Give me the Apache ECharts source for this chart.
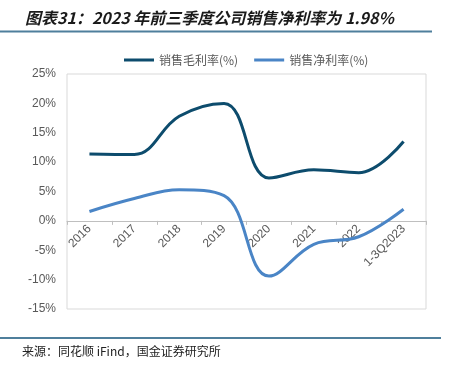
<!DOCTYPE html>
<html><head><meta charset="utf-8">
<script src="https://cdn.jsdelivr.net/npm/echarts@6/dist/echarts.min.js"></script>
<style>html,body{margin:0;padding:0;background:#fff}#c{width:452px;height:372px}</style>
</head><body><div id="c"></div>
<script>
const categories = ['2016','2017','2018','2019','2020','2021','2022','1-3Q2023'];
const grossMargin = [11.4, 11.3, 17.8, 20.0, 7.3, 8.7, 8.2, 13.5];
const netMargin = [1.6, 3.8, 5.3, 4.3, -9.4, -4.0, -2.7, 1.98];
const yTicks = {min: -15, max: 25, interval: 5};
const titleText = '图表31：2023 年前三季度公司销售净利率为 1.98%';
const sourceText = '来源：同花顺 iFind，国金证券研究所';
const seriesNames = ['销售毛利率(%)', '销售净利率(%)'];

const gridTop = 74, gridBottom = 63, H = 372;
const plotH = H - gridTop - gridBottom;
const zeroOffset = -plotH * (0 - yTicks.min) / (yTicks.max - yTicks.min);

const chart = echarts.init(document.getElementById('c'));
chart.setOption({
  animation: false,
  title: {
    text: titleText, left: 20, top: 5,
    textStyle: {fontFamily: 'Noto Sans CJK SC', fontSize: 16, fontStyle: 'italic', fontWeight: 'bold', color: '#1a1a1a'}
  },
  graphic: [
    {type: 'line', shape: {x1: 0, y1: 31.5, x2: 432, y2: 31.5}, style: {stroke: '#4f7f9c', lineWidth: 2}},
    {type: 'line', shape: {x1: 0, y1: 338, x2: 441, y2: 338}, style: {stroke: '#4f7f9c', lineWidth: 2}},
    {type: 'text', left: 22, top: 345, style: {text: sourceText, font: '12px "Noto Sans CJK SC"', fill: '#222'}}
  ],
  legend: {
    top: 49, left: 119, itemWidth: 30, itemHeight: 3, itemGap: 16,
    icon: 'rect',
    textStyle: {fontFamily: 'Noto Sans CJK SC', fontSize: 12, color: '#595959'},
    data: seriesNames
  },
  grid: {left: 67, right: 26, top: gridTop, bottom: gridBottom, show: true, borderColor: '#d9d9d9', borderWidth: 1},
  xAxis: {
    type: 'category', data: categories, boundaryGap: true, offset: zeroOffset,
    axisLine: {onZero: false, lineStyle: {color: '#bfbfbf'}},
    axisTick: {show: true, length: 4, lineStyle: {color: '#bfbfbf'}},
    axisLabel: {rotate: 45, color: '#595959', fontFamily: 'Arial', fontSize: 12, margin: 6}
  },
  yAxis: {
    type: 'value', min: yTicks.min, max: yTicks.max, interval: yTicks.interval,
    splitLine: {show: false},
    axisLine: {show: false}, axisTick: {show: false},
    axisLabel: {formatter: '{value}%', color: '#595959', fontFamily: 'Arial', fontSize: 12, margin: 11}
  },
  series: [
    {name: seriesNames[0], type: 'line', data: grossMargin, smooth: 0.4, symbol: 'none',
     lineStyle: {width: 3, color: '#0d4c6d'}, itemStyle: {color: '#0d4c6d'}},
    {name: seriesNames[1], type: 'line', data: netMargin, smooth: 0.4, symbol: 'none',
     lineStyle: {width: 3, color: '#4a85c6'}, itemStyle: {color: '#4a85c6'}}
  ]
});
</script></body></html>
